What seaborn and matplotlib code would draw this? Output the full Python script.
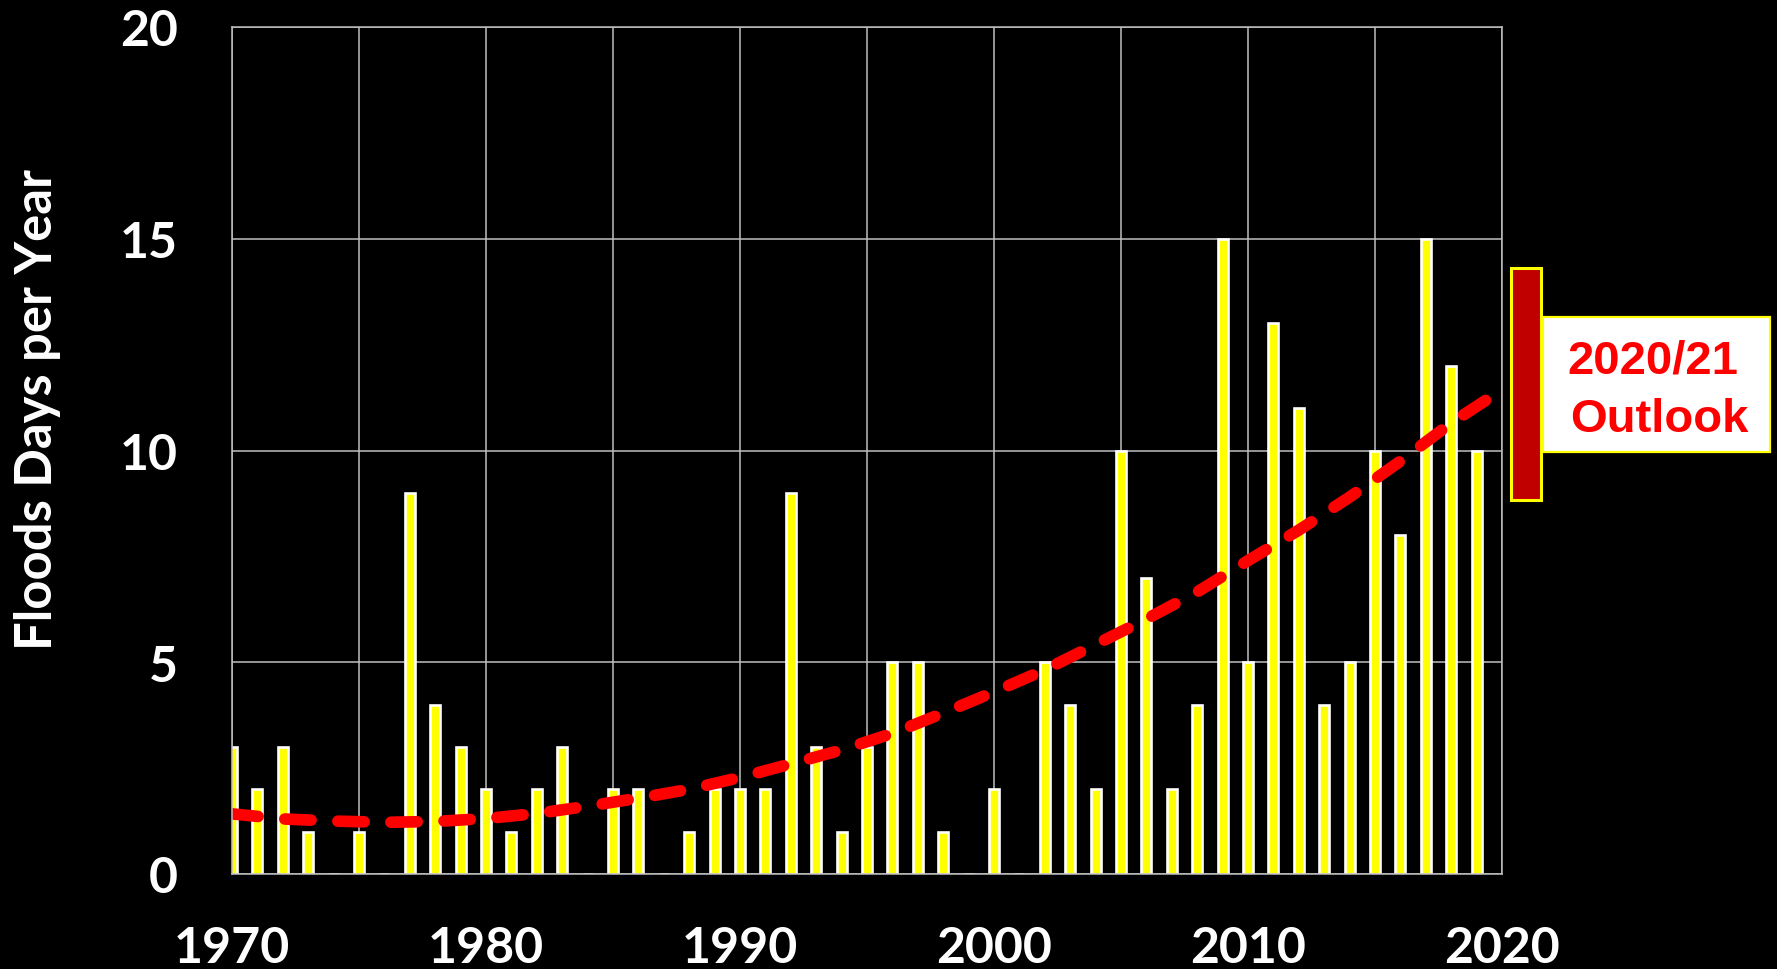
import matplotlib
matplotlib.use("Agg")
import matplotlib.pyplot as plt
import seaborn as sns
import pandas as pd
from matplotlib.patches import Rectangle

# flood days per year
years = list(range(1970, 2020))
floods = [3, 2, 3, 1, 0, 1, 0, 9, 4, 3,
          2, 1, 2, 3, 0, 2, 2, 0, 1, 2,
          2, 2, 9, 3, 1, 3, 5, 5, 1, 0,
          2, 0, 5, 4, 2, 10, 7, 2, 4, 15,
          5, 13, 11, 4, 5, 10, 8, 15, 12, 10]

# trend line as drawn on the chart
trend_years = [1970, 1972, 1974, 1976, 1978, 1980, 1982, 1984, 1986, 1988,
               1990, 1992, 1994, 1996, 1998, 2000, 2002, 2004, 2006, 2008,
               2010, 2012, 2014, 2016, 2018, 2019.4]
trend_vals = [1.42, 1.30, 1.25, 1.22, 1.24, 1.31, 1.43, 1.60, 1.79, 2.00,
              2.28, 2.60, 2.93, 3.32, 3.80, 4.30, 4.82, 5.42, 6.02, 6.66,
              7.40, 8.12, 8.90, 9.75, 10.65, 11.20]

# 2020/21 outlook range
outlook_low, outlook_high = 8.84, 14.30
outlook_text = ["2020/21", "Outlook"]

yticks = [0, 5, 10, 15, 20]
xlabel_years = [1970, 1980, 1990, 2000, 2010, 2020]

df = pd.DataFrame({"year": years, "floods": floods})

sns.set_style("dark", {"axes.facecolor": "black", "figure.facecolor": "black",
                       "grid.color": "#BFBFBF", "axes.edgecolor": "#BFBFBF"})
plt.rcParams['font.family'] = ['Lato', 'DejaVu Sans']

fig = plt.figure(figsize=(17.77, 9.70), dpi=100, facecolor="black")
ax = fig.add_axes([232 / 1777, 95 / 970, 1270 / 1777, 847 / 970])
ax.set_axisbelow(True)

sns.barplot(data=df, x="year", y="floods", native_scale=True, width=0.4,
            color="#FFFF00", saturation=1, edgecolor="white", linewidth=1.9,
            ax=ax, zorder=2)

ax.plot(trend_years, trend_vals, color="#FF0000", lw=8.4,
        dashes=(2.25, 2.3), dash_capstyle="round", zorder=3)

ax.set_xlim(1970, 2020)
ax.set_ylim(0, 20)
ax.set_xticks(range(1970, 2021, 5))
ax.set_xticklabels([str(y) if y in xlabel_years else "" for y in range(1970, 2021, 5)])
ax.set_yticks(yticks)
ax.set_yticklabels([str(v) for v in yticks])
ax.grid(True, axis="both", color="#BFBFBF", lw=1.1)
for s in ax.spines.values():
    s.set_visible(True)
    s.set_color("#BFBFBF")
    s.set_linewidth(1.1)
    s.set_zorder(4)
ax.tick_params(axis="both", length=0, labelcolor="white", labelsize=36)
ax.tick_params(axis="y", pad=39)
ax.tick_params(axis="x", pad=37)
for lab in ax.get_xticklabels() + ax.get_yticklabels():
    lab.set_fontweight("bold")
ax.set_xlabel("")
ax.set_ylabel("")

fig.text(38 / 1777, 1 - 410 / 970, "Floods Days per Year", rotation=90,
         ha="center", va="center", color="white", fontsize=36.5, fontweight="bold")

# outlook callout outside the axes
ax.add_patch(Rectangle((2021.6, 9.97), 8.97, 3.19, facecolor="white",
                       edgecolor="#FFFF00", lw=1.6, clip_on=False, zorder=5))
ax.add_patch(Rectangle((2020.37, outlook_low), 1.18, outlook_high - outlook_low,
                       facecolor="#C00000", edgecolor="#FFFF00", lw=2.2,
                       clip_on=False, zorder=6))
ax.text(2025.95, 11.85, outlook_text[0], ha="center", va="baseline",
        color="#FF0000", fontsize=34, fontweight="bold",
        family=["Liberation Sans", "DejaVu Sans"], zorder=7, clip_on=False)
ax.text(2026.2, 10.46, outlook_text[1], ha="center", va="baseline",
        color="#FF0000", fontsize=34, fontweight="bold",
        family=["Liberation Sans", "DejaVu Sans"], zorder=7, clip_on=False)

fig.savefig("out.png", dpi=100, facecolor="black")
